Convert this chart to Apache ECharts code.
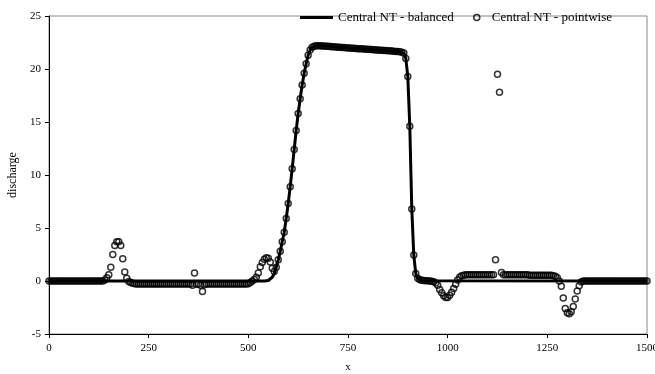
<!DOCTYPE html>
<html>
<head>
<meta charset="utf-8">
<script src="https://cdn.jsdelivr.net/npm/echarts@6/dist/echarts.min.js"></script>
<style>html,body{margin:0;padding:0;background:#fff}#c{width:655px;height:374px}</style>
</head>
<body>
<div id="c"></div>
<script>
// ---- data ----
const xTicks = [0, 250, 500, 750, 1000, 1250, 1500];
const yTicks = [-5, 0, 5, 10, 15, 20, 25];

const pointwiseX = [
  0,5,10,15,20,25,30,35,40,45,50,55,60,65,70,75,80,85,90,95,
  100,105,110,115,120,125,130,135,140,145,150,155,160,165,170,175,180,185,190,195,
  200,205,210,215,220,225,230,235,240,245,250,255,260,265,270,275,280,285,290,295,
  300,305,310,315,320,325,330,335,340,345,350,355,360,365,370,375,380,385,390,395,
  400,405,410,415,420,425,430,435,440,445,450,455,460,465,470,475,480,485,490,495,
  500,505,510,515,520,525,530,535,540,545,550,555,560,565,570,575,580,585,590,595,
  600,605,610,615,620,625,630,635,640,645,650,655,660,665,670,675,680,685,690,695,
  700,705,710,715,720,725,730,735,740,745,750,755,760,765,770,775,780,785,790,795,
  800,805,810,815,820,825,830,835,840,845,850,855,860,865,870,875,880,885,890,895,
  900,905,910,915,920,925,930,935,940,945,950,955,960,965,970,975,980,985,990,995,
  1000,1005,1010,1015,1020,1025,1030,1035,1040,1045,1050,1055,1060,1065,1070,1075,1080,1085,1090,1095,
  1100,1105,1110,1115,1120,1125,1130,1135,1140,1145,1150,1155,1160,1165,1170,1175,1180,1185,1190,1195,
  1200,1205,1210,1215,1220,1225,1230,1235,1240,1245,1250,1255,1260,1265,1270,1275,1280,1285,1290,1295,
  1300,1305,1310,1315,1320,1325,1330,1335,1340,1345,1350,1355,1360,1365,1370,1375,1380,1385,1390,1395,
  1400,1405,1410,1415,1420,1425,1430,1435,1440,1445,1450,1455,1460,1465,1470,1475,1480,1485,1490,1495,
  1500
];
const pointwiseY = [
  0,0,0,0,0,0,0,0,0,0,0,0,0,0,0,0,0,0,0,0,
  0,0,0,0,0,0,0,0,0.1,0.3,0.6,1.3,2.5,3.35,3.7,3.7,3.35,2.1,0.85,0.25,
  -0.05,-0.15,-0.22,-0.26,-0.28,-0.28,-0.28,-0.28,-0.28,-0.28,-0.28,-0.28,-0.28,-0.28,-0.28,-0.28,-0.28,-0.28,-0.28,-0.28,
  -0.28,-0.28,-0.28,-0.28,-0.28,-0.28,-0.28,-0.28,-0.28,-0.28,-0.28,-0.28,-0.4,0.75,-0.3,-0.28,-0.4,-1.0,-0.35,-0.28,
  -0.28,-0.28,-0.28,-0.28,-0.28,-0.28,-0.28,-0.28,-0.28,-0.28,-0.28,-0.28,-0.28,-0.28,-0.28,-0.28,-0.28,-0.28,-0.28,-0.28,
  -0.25,-0.15,0,0.15,0.35,0.75,1.35,1.75,2.05,2.2,2.15,1.8,1.2,0.9,1.3,2.0,2.8,3.7,4.6,5.9,
  7.3,8.9,10.6,12.4,14.2,15.8,17.2,18.5,19.6,20.5,21.3,21.8,22.05,22.15,22.2,22.2,22.2,22.18,22.17,22.15,
  22.14,22.12,22.1,22.09,22.08,22.06,22.05,22.04,22.02,22.0,21.99,21.98,21.96,21.95,21.94,21.92,21.91,21.9,21.88,21.87,
  21.86,21.84,21.83,21.82,21.8,21.79,21.78,21.76,21.75,21.74,21.72,21.71,21.7,21.68,21.66,21.64,21.62,21.58,21.5,21.0,
  19.3,14.6,6.8,2.45,0.7,0.25,0.12,0.08,0.05,0.03,0.02,0,-0.03,-0.08,-0.2,-0.4,-0.8,-1.1,-1.4,-1.55,
  -1.55,-1.35,-1.05,-0.7,-0.3,0.1,0.35,0.5,0.55,0.6,0.6,0.6,0.6,0.6,0.6,0.6,0.6,0.6,0.6,0.6,
  0.6,0.6,0.6,0.6,2.0,19.5,17.8,0.8,0.6,0.6,0.6,0.6,0.6,0.6,0.6,0.6,0.6,0.6,0.6,0.6,
  0.6,0.55,0.55,0.55,0.55,0.55,0.55,0.55,0.55,0.55,0.55,0.55,0.55,0.5,0.45,0.3,0.0,-0.5,-1.6,-2.6,
  -3.0,-3.1,-2.9,-2.4,-1.7,-0.95,-0.45,-0.1,0,0,0,0,0,0,0,0,0,0,0,0,
  0,0,0,0,0,0,0,0,0,0,0,0,0,0,0,0,0,0,0,0,
  0
];

const balancedX = [0,540,545,550,555,560,565,570,575,580,585,590,595,600,605,610,615,620,625,630,635,640,645,650,655,660,665,670,680,700,750,800,850,880,885,890,895,900,905,910,915,920,925,930,935,940,1500];
const balancedY = [0,0,0.02,0.05,0.15,0.35,0.7,1.3,2.0,2.8,3.7,4.6,5.9,7.3,8.9,10.6,12.4,14.2,15.8,17.2,18.5,19.6,20.5,21.3,21.8,22.05,22.15,22.2,22.2,22.14,21.99,21.86,21.72,21.62,21.58,21.5,21.0,19.3,14.6,6.8,2.45,0.7,0.25,0.08,0.02,0,0];

// ---- chart ----
const FONT = "'Liberation Serif','Times New Roman',serif";
const chart = echarts.init(document.getElementById('c'), null, {renderer: 'canvas'});
const zip = (xs, ys) => xs.map((x, i) => [x, ys[i]]);

chart.setOption({
  animation: false,
  backgroundColor: '#fff',
  textStyle: {fontFamily: FONT, color: '#000'},
  grid: {left: 49, right: 8, top: 16, bottom: 40, show: true, borderColor: '#888', borderWidth: 1,
         backgroundColor: 'transparent', containLabel: false, outerBoundsMode: 'none'},
  legend: [
    {
      data: [{name: 'Central NT - balanced', icon: 'rect', itemStyle: {color: '#000'}}],
      left: 295, top: 6, itemWidth: 33, itemHeight: 3,
      textStyle: {fontFamily: FONT, fontSize: 13, color: '#000'}
    },
    {
      data: [{name: 'Central NT - pointwise', icon: 'circle', itemStyle: {color: 'rgba(0,0,0,0)', borderColor: '#000', borderWidth: 1.5}}],
      left: 468, top: 6, itemWidth: 20, itemHeight: 6,
      textStyle: {fontFamily: FONT, fontSize: 13, color: '#000'}
    }
  ],
  xAxis: {
    type: 'value', min: xTicks[0], max: xTicks[xTicks.length - 1], interval: 250,
    name: 'x', nameLocation: 'middle', nameGap: 28,
    nameTextStyle: {fontFamily: FONT, fontSize: 11, color: '#000'},
    axisLine: {onZero: false, lineStyle: {color: '#000', width: 1}},
    axisTick: {show: true, length: 4, lineStyle: {color: '#000'}},
    axisLabel: {fontFamily: FONT, fontSize: 11, color: '#000', margin: 9, formatter: v => String(v)},
    splitLine: {show: false}
  },
  yAxis: {
    type: 'value', min: yTicks[0], max: yTicks[yTicks.length - 1], interval: 5,
    name: 'discharge', nameLocation: 'middle', nameGap: 24, nameRotate: 90,
    nameTextStyle: {fontFamily: FONT, fontSize: 12, color: '#000'},
    axisLine: {show: true, onZero: false, lineStyle: {color: '#000', width: 1}},
    axisTick: {show: true, length: 4, lineStyle: {color: '#000'}},
    axisLabel: {fontFamily: FONT, fontSize: 11, color: '#000', margin: 8, formatter: v => String(v)},
    splitLine: {show: false}
  },
  series: [
    {
      name: 'Central NT - balanced', type: 'line',
      data: zip(balancedX, balancedY),
      showSymbol: false, symbol: 'none', smooth: false,
      lineStyle: {color: '#000', width: 3},
      itemStyle: {color: '#000'}, z: 2
    },
    {
      name: 'Central NT - pointwise', type: 'scatter',
      data: zip(pointwiseX, pointwiseY),
      symbol: 'circle', symbolSize: 6,
      itemStyle: {color: 'rgba(0,0,0,0)', borderColor: '#000', borderWidth: 1.5},
      z: 3
    }
  ]
});
</script>
</body>
</html>
